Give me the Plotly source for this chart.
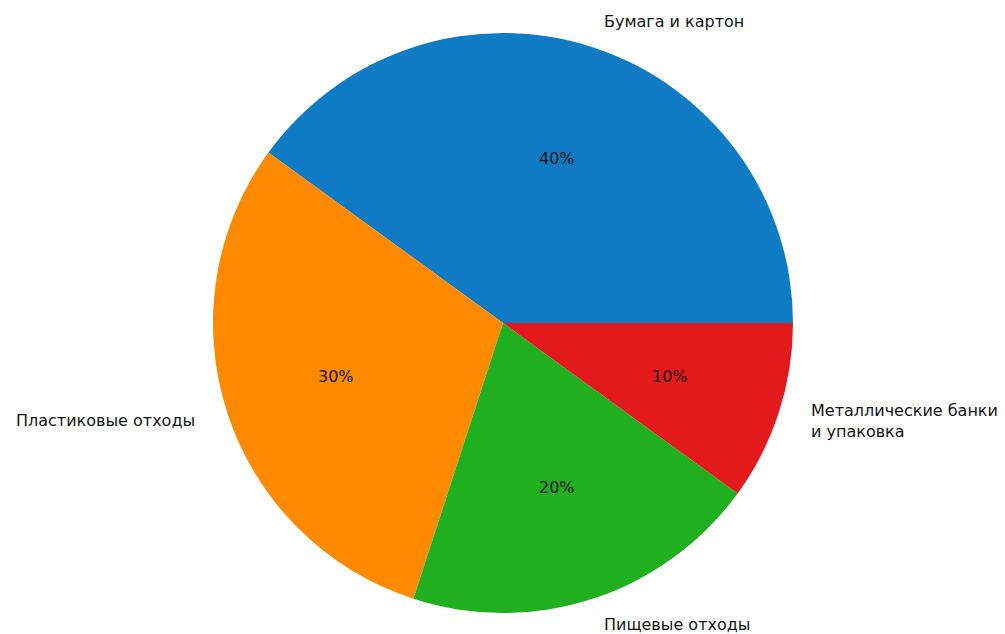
import math
import plotly.graph_objects as go

categories = ["Бумага и картон", "Пластиковые отходы", "Пищевые отходы", "Металлические банки<br>и упаковка"]
values = [40, 30, 20, 10]
colors = ["#0e7bc4", "#ff8a00", "#1faf1f", "#e31a1c"]

W, H = 1005, 634
OFF = 8  # page body margin
cx, cy = 503, 323
rx, ry = 293, 288
r = 290

def px(x):
    return (x - OFF) / W

def py(y):
    return 1 - (y - OFF) / H

total = sum(values)

fig = go.Figure(go.Pie(
    labels=categories,
    values=values,
    marker=dict(colors=colors, line=dict(width=0)),
    sort=False,
    direction="counterclockwise",
    rotation=90 - 360 * values[0] / total,
    textinfo="none",
    hoverinfo="skip",
    showlegend=False,
    domain=dict(x=[px(cx - r), px(cx + r)], y=[py(cy + r), py(cy - r)]),
))

font = dict(family="DejaVu Sans", size=16, color="#151515")
annotations = []
start = 0.0
for lab, v in zip(categories, values):
    frac = v / total
    mid = math.radians((start + frac / 2) * 360)
    start += frac
    right = math.cos(mid) > 0
    lx = cx + 1.1 * rx * math.cos(mid)
    ly = cy - 1.1 * ry * math.sin(mid)
    annotations.append(dict(
        x=px(lx), y=py(ly), xref="paper", yref="paper",
        text=lab, showarrow=False, borderpad=0,
        xanchor="left" if right else "right", yanchor="middle",
        align="left" if right else "right",
        font=font,
    ))
    tx = cx + 0.6 * rx * math.cos(mid)
    ty = cy - 0.6 * ry * math.sin(mid)
    annotations.append(dict(
        x=px(tx), y=py(ty), xref="paper", yref="paper",
        text=f"{round(frac * 100)}%", showarrow=False, borderpad=0,
        xanchor="center", yanchor="middle",
        font=font,
    ))

fig.update_layout(
    width=W, height=H,
    margin=dict(l=0, r=0, t=0, b=0),
    paper_bgcolor="white", plot_bgcolor="white",
    annotations=annotations,
)

fig.write_html("out.html")
